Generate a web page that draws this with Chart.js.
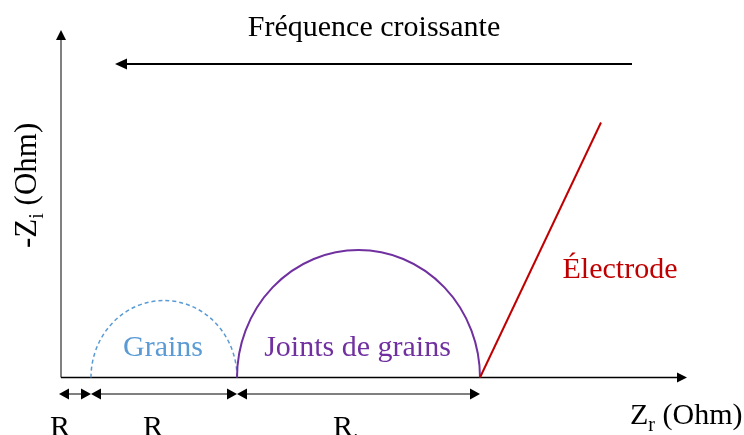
<!DOCTYPE html>
<html>
<head>
<meta charset="utf-8">
<script src="https://cdn.jsdelivr.net/npm/chart.js@4"></script>
<style>
  body { margin: 0; background: #fff; }
  #wrap { width: 744px; height: 435px; }
</style>
</head>
<body>
<div id="wrap"><canvas id="nyquist" width="744" height="435"></canvas></div>
<script>
// Resistances along Zr (Ohm): electrolyte, grains, grain boundaries
const resNames = ['e', 'g', 'jg'];
const resValues = [3.0, 14.6, 24.3];
// Semicircle arcs (grains, joints) and their peak -Zi
const arcNames = ['Grains', 'Joints de grains'];
const arcPeaks = [7.7, 12.75];
const arcColors = ['#5B9BD5', '#7030A0'];
// Electrode tail
const electrodeZi = [0, 25.5];
const electrodeEndZr = 54.0;

const serif = "'Liberation Serif', 'Times New Roman', serif";
const electrodeStart = resValues.reduce((a, b) => a + b, 0);

function arrowHead(ctx, x, y, angle, len, half) {
    ctx.save();
    ctx.translate(x, y);
    ctx.rotate(angle);
    ctx.beginPath();
    ctx.moveTo(0, 0);
    ctx.lineTo(-len, -half);
    ctx.lineTo(-len, half);
    ctx.closePath();
    ctx.fill();
    ctx.restore();
}

// text with a subscript, left aligned at x
function subText(ctx, x, y, main, sub, rest, size, drop) {
    ctx.font = size + 'px ' + serif;
    ctx.fillText(main, x, y);
    let w = ctx.measureText(main).width;
    ctx.font = Math.round(size * 0.65) + 'px ' + serif;
    ctx.fillText(sub, x + w, y + (drop || size * 0.22));
    w += ctx.measureText(sub).width;
    if (rest) {
        ctx.font = size + 'px ' + serif;
        ctx.fillText(rest, x + w, y);
        w += ctx.measureText(rest).width;
    }
    return w;
}

const sketch = {
    id: 'nyquistSketch',
    beforeDatasetsDraw(chart) {
        const ctx = chart.ctx;
        const sx = chart.scales.x, sy = chart.scales.y;
        const area = chart.chartArea;
        const x0 = sx.getPixelForValue(0), y0 = sy.getPixelForValue(0);
        ctx.save();

        // -Zi axis
        ctx.strokeStyle = '#808080';
        ctx.lineWidth = 2;
        ctx.beginPath();
        ctx.moveTo(x0, y0);
        ctx.lineTo(x0, area.top + 8);
        ctx.stroke();
        ctx.fillStyle = '#000';
        arrowHead(ctx, x0, area.top, -Math.PI / 2, 10, 5);

        // Zr axis
        ctx.strokeStyle = '#000';
        ctx.lineWidth = 1.5;
        ctx.beginPath();
        ctx.moveTo(x0, y0);
        ctx.lineTo(area.right - 8, y0);
        ctx.stroke();
        arrowHead(ctx, area.right, y0, 0, 10, 5);

        // semicircles
        let start = resValues[0];
        arcPeaks.forEach((peak, i) => {
            const r = resValues[i + 1];
            const cx = sx.getPixelForValue(start + r / 2);
            const rx = sx.getPixelForValue(start + r) - cx;
            const ry = y0 - sy.getPixelForValue(peak);
            ctx.strokeStyle = arcColors[i];
            ctx.lineWidth = i === 0 ? 1.5 : 2;
            ctx.setLineDash(i === 0 ? [4, 3] : []);
            ctx.beginPath();
            ctx.ellipse(cx, y0, rx, ry, 0, Math.PI, 2 * Math.PI);
            ctx.stroke();
            start += r;
        });
        ctx.setLineDash([]);

        // resistance spans below the axis
        const dy = y0 + 16.5;
        ctx.strokeStyle = '#000';
        ctx.fillStyle = '#000';
        ctx.lineWidth = 1;
        let acc = 0;
        resValues.forEach((r, i) => {
            const a = sx.getPixelForValue(acc) - (i === 0 ? 2 : 0);
            const b = sx.getPixelForValue(acc + r);
            ctx.beginPath();
            ctx.moveTo(a + 4, dy);
            ctx.lineTo(b - 4, dy);
            ctx.stroke();
            arrowHead(ctx, a, dy, Math.PI, 10, 5.5);
            arrowHead(ctx, b, dy, 0, 10, 5.5);
            acc += r;
        });

        // increasing frequency arrow
        const fy = sy.getPixelForValue(31.35);
        const fa = sx.getPixelForValue(57.1), fb = sx.getPixelForValue(5.4);
        ctx.lineWidth = 2;
        ctx.beginPath();
        ctx.moveTo(fa, fy);
        ctx.lineTo(fb + 8, fy);
        ctx.stroke();
        arrowHead(ctx, fb, fy, Math.PI, 12, 5.5);
        ctx.restore();
    },
    afterDatasetsDraw(chart) {
        const ctx = chart.ctx;
        const sx = chart.scales.x, sy = chart.scales.y;
        const y0 = sy.getPixelForValue(0);
        ctx.save();
        ctx.textBaseline = 'alphabetic';

        ctx.fillStyle = '#000';
        ctx.font = '30px ' + serif;
        ctx.textAlign = 'center';
        ctx.fillText('Fréquence croissante', 374, 36);

        // arc labels
        let start = resValues[0];
        arcNames.forEach((name, i) => {
            const r = resValues[i + 1];
            ctx.fillStyle = arcColors[i];
            ctx.fillText(name, sx.getPixelForValue(start + r / 2) - 1, y0 - 21.5);
            start += r;
        });

        ctx.fillStyle = '#C00000';
        ctx.fillText('Électrode', 620, 278);

        // axis titles
        ctx.textAlign = 'left';
        ctx.fillStyle = '#000';
        subText(ctx, 630, 424, 'Z', 'r', ' (Ohm)', 30);

        ctx.save();
        ctx.translate(36, 248);
        ctx.rotate(-Math.PI / 2);
        subText(ctx, 0, 0, '-Z', 'i', ' (Ohm)', 31);
        ctx.restore();

        // resistance labels, cut by the bottom edge
        const labelX = [50, 143, 333];
        resNames.forEach((s, i) => {
            subText(ctx, labelX[i], 436, 'R', s, '', 30, 12);
        });
        ctx.restore();
    }
};

new Chart(document.getElementById('nyquist'), {
    type: 'scatter',
    data: {
        datasets: [{
            label: 'Électrode',
            data: [
                { x: electrodeStart, y: electrodeZi[0] },
                { x: electrodeEndZr, y: electrodeZi[1] }
            ],
            showLine: true,
            borderColor: '#C00000',
            borderWidth: 2,
            pointRadius: 0
        }]
    },
    options: {
        responsive: false,
        devicePixelRatio: 1,
        animation: false,
        layout: { padding: { left: 61, right: 57, top: 30, bottom: 57.5 } },
        scales: {
            x: { type: 'linear', min: 0, max: 62.6, display: false },
            y: { type: 'linear', min: 0, max: 34.75, display: false }
        },
        plugins: {
            legend: { display: false },
            tooltip: { enabled: false }
        }
    },
    plugins: [sketch]
});
</script>
</body>
</html>
